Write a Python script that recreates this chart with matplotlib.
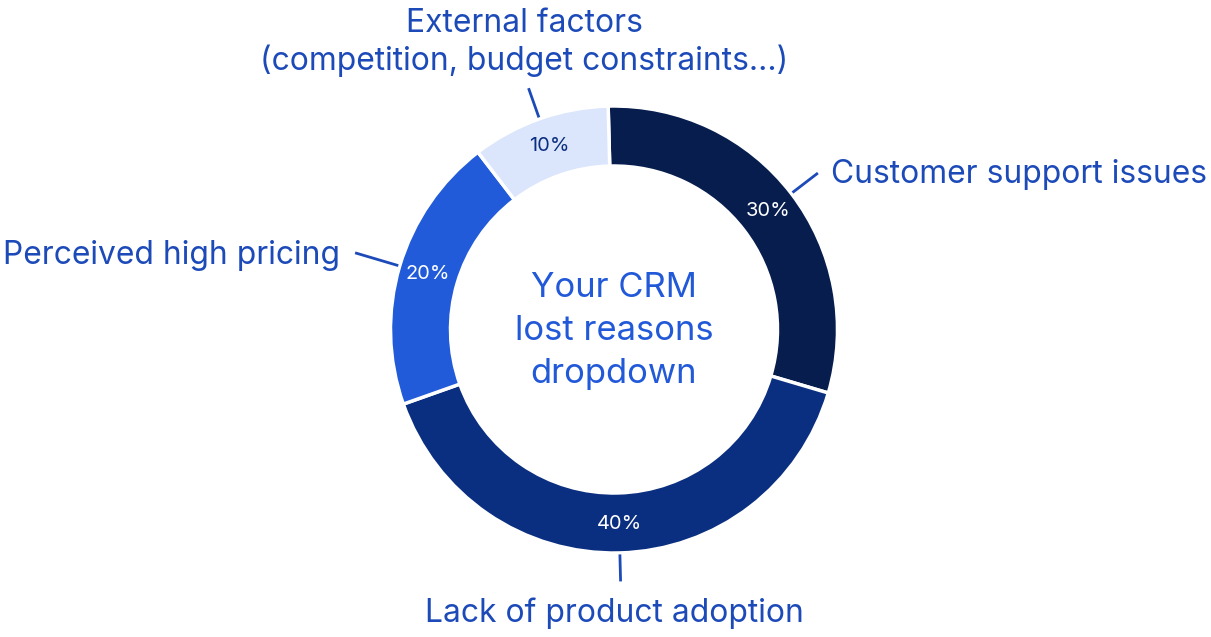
import numpy as np
import matplotlib
matplotlib.use("Agg")
import matplotlib.pyplot as plt

# ---- data ----
categories = ["Customer support issues", "Lack of product adoption",
              "Perceived high pricing",
              "External factors\n(competition, budget constraints...)"]
values = [30, 40, 20, 10]
pct_labels = ["30%", "40%", "20%", "10%"]
center_title = "Your CRM\nlost reasons\ndropdown"

# ---- style ----
colors = ["#061d4e", "#0b2f80", "#215bd9", "#dbe6fc"]
pct_colors = ["white", "white", "white", "#0b2f80"]
label_color = "#1c4ab8"
center_color = "#2159d9"
plt.rcParams['font.family'] = ['Inter', 'DejaVu Sans']

W, H = 1211, 637
fig = plt.figure(figsize=(W / 100, H / 100), dpi=100)
ax = fig.add_axes([0, 0, 1, 1])

cx, cy = 614, H - 329.5
R, ring = 223.5, 60

wedges, _ = ax.pie(values, colors=colors, startangle=91.5, counterclock=False,
                   center=(cx, cy), radius=R, frame=True,
                   wedgeprops=dict(width=ring, edgecolor='white', linewidth=2.5))
ax.set_xlim(0, W)
ax.set_ylim(0, H)
ax.set_aspect('equal')
ax.axis('off')

# connector lengths (outer radius) and label placement (pixels, baseline)
line_out = [257, 252, 270, 256]
label_pos = [(831, 183, 'left'), (614, 622, 'center'), (340, 264, 'right'), (524, 32, 'center')]

for i, w in enumerate(wedges):
    mid = np.deg2rad((w.theta1 + w.theta2) / 2)
    rm = R - ring / 2 + 1
    ax.text(cx + rm * np.cos(mid), cy + rm * np.sin(mid), pct_labels[i],
            color=pct_colors[i], fontsize=14.4, ha='center', va='center')
    r1, r2 = R + 1.5, line_out[i]
    ax.plot([cx + r1 * np.cos(mid), cx + r2 * np.cos(mid)],
            [cy + r1 * np.sin(mid), cy + r2 * np.sin(mid)],
            color=label_color, lw=2.0, solid_capstyle='butt')
    x, y, ha = label_pos[i]
    for j, line in enumerate(categories[i].split("\n")):
        ax.text(x, H - (y + 38 * j), line, color=label_color, fontsize=22.9,
                ha=ha, va='baseline')

for j, line in enumerate(center_title.split("\n")):
    ax.text(cx, H - (297 + 43 * j), line, color=center_color, fontsize=24.9,
            ha='center', va='baseline')

fig.savefig("out.png", dpi=100, facecolor='white')
